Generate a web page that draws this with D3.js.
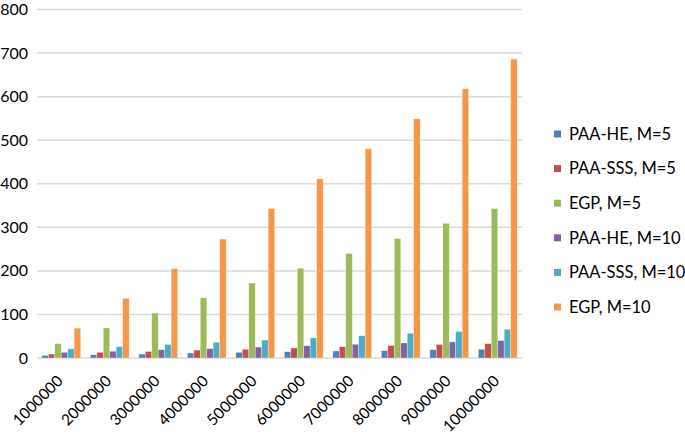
<!DOCTYPE html>
<html>
<head>
<meta charset="utf-8">
<script src="https://cdn.jsdelivr.net/npm/d3@7"></script>
<style>
  body { margin: 0; background: #fff; }
  svg { font-family: Lato, "Open Sans", sans-serif; }
</style>
</head>
<body>
<svg id="chart" width="685" height="435"></svg>
<script>
const categories = ["1000000", "2000000", "3000000", "4000000", "5000000",
  "6000000", "7000000", "8000000", "9000000", "10000000"];
const seriesNames = ["PAA-HE, M=5", "PAA-SSS, M=5", "EGP, M=5",
  "PAA-HE, M=10", "PAA-SSS, M=10", "EGP, M=10"];
const paaHe5 = [6, 7.5, 9, 11.5, 13, 14.5, 16, 17, 19, 20];
const paaSss5 = [9, 13, 15, 18, 20, 23, 26, 28.5, 31, 33];
const egp5 = [33, 69, 103, 138, 172, 206, 240, 274, 309, 343];
const paaHe10 = [13, 15.5, 19, 21.5, 25, 28, 31.5, 34.5, 37, 40];
const paaSss10 = [21, 26, 31, 36, 41, 46, 51, 56.5, 61, 66];
const egp10 = [68.5, 137, 205, 273, 343, 411, 480, 549, 618, 686];
const yTicks = [0, 100, 200, 300, 400, 500, 600, 700, 800];
const colors = ["#4F81BD", "#C0504D", "#9BBB59", "#8064A2", "#4BACC6", "#F79646"];

const allSeries = [paaHe5, paaSss5, egp5, paaHe10, paaSss10, egp10];

const svg = d3.select("#chart");
const plot = { left: 37, right: 522, top: 9.5, bottom: 358 };

const x0 = d3.scaleBand()
  .domain(categories)
  .range([plot.left, plot.right])
  .paddingInner(0.2)
  .paddingOuter(0.1);

const x1 = d3.scaleBand()
  .domain(d3.range(seriesNames.length))
  .range([0, x0.bandwidth()]);

const y = d3.scaleLinear()
  .domain([0, 800])
  .range([plot.bottom, plot.top]);

// gridlines
svg.append("g")
  .selectAll("line")
  .data(yTicks)
  .enter()
  .append("line")
  .attr("x1", plot.left)
  .attr("x2", plot.right)
  .attr("y1", d => y(d))
  .attr("y2", d => y(d))
  .attr("stroke", "#d9d9d9")
  .attr("stroke-width", 1.5);

// y axis labels
svg.append("g")
  .selectAll("text")
  .data(yTicks)
  .enter()
  .append("text")
  .attr("x", 28)
  .attr("y", d => y(d))
  .attr("dy", "0.35em")
  .attr("text-anchor", "end")
  .attr("font-size", 16)
  .attr("fill", "#000")
  .text(d => d);

// bars
const groups = svg.append("g")
  .selectAll("g")
  .data(categories)
  .enter()
  .append("g")
  .attr("transform", d => `translate(${x0(d)},0)`);

groups.selectAll("rect")
  .data((c, i) => allSeries.map((s, k) => ({ k: k, value: s[i] })))
  .enter()
  .append("rect")
  .attr("x", d => x1(d.k))
  .attr("width", x1.bandwidth())
  .attr("y", d => y(d.value))
  .attr("height", d => y(0) - y(d.value))
  .attr("fill", d => colors[d.k])
  .attr("stroke", "#fff")
  .attr("stroke-opacity", 0.5)
  .attr("stroke-width", 0.6);

// x labels, rotated
svg.append("g")
  .selectAll("text")
  .data(categories)
  .enter()
  .append("text")
  .attr("text-anchor", "end")
  .attr("font-size", 15.5)
  .attr("fill", "#000")
  .attr("transform", d => `translate(${x0(d) + x0.bandwidth() / 2 + 2.5},${plot.bottom + 24}) rotate(-45)`)
  .text(d => d);

// legend
const legend = svg.append("g")
  .selectAll("g")
  .data(seriesNames)
  .enter()
  .append("g")
  .attr("transform", (d, i) => `translate(554,${134 + i * 34.6})`);

legend.append("rect")
  .attr("x", 0)
  .attr("y", -3.5)
  .attr("width", 7)
  .attr("height", 7)
  .attr("fill", (d, i) => colors[i]);

legend.append("text")
  .attr("x", 15)
  .attr("dy", "0.35em")
  .attr("font-size", 16.5)
  .attr("fill", "#000")
  .text(d => d);
</script>
</body>
</html>
